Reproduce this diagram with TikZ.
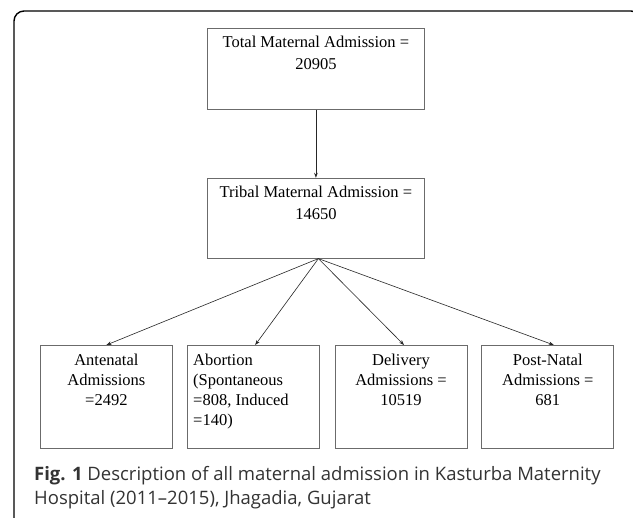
\documentclass[tikz,border=0pt]{standalone}
\usepackage{fontspec}
\setmainfont{Liberation Serif}
\newfontfamily\capfont{Open Sans}
\usetikzlibrary{positioning,arrows.meta}
\definecolor{boxgray}{gray}{0.42}
\definecolor{arrowgray}{gray}{0.15}
\definecolor{captext}{gray}{0.2}
\tikzset{
  admbox/.style={draw=boxgray,line width=0.8pt,rectangle,inner sep=0pt},
  topbox/.style={admbox,minimum width=217pt,font=\fontsize{16.5}{22}\selectfont},
  lowbox/.style={admbox,minimum width=132pt,minimum height=103pt,
    font=\fontsize{16.5}{20}\selectfont},
  flow/.style={draw=arrowgray,line width=0.6pt,-{Stealth[length=5pt,width=3.6pt]}}
}
\begin{document}
\begin{tikzpicture}[x=1pt,y=-1pt]
\clip (0,0) rectangle (633,518);
\fill[white] (0,0) rectangle (633,518);
% open frame round the figure
\draw[line width=1.4pt,rounded corners=10pt] (14,530) -- (14,11) -- (641,11) -- (641,530);
\node[topbox,minimum height=81pt,anchor=north west] (total) at (207,28)
  {\parbox[t][73.8pt][t]{205pt}{\centering\strut Total Maternal Admission =\\20905}};
\node[topbox,minimum height=80pt,below=68pt of total] (tribal)
  {\parbox[t][72.8pt][t]{205pt}{\centering\strut Tribal Maternal Admission =\\14650}};
\node[lowbox,anchor=north west] (ante) at (40,345)
  {\parbox[t][91pt][t]{120pt}{\centering\strut Antenatal\\Admissions\\=2492}};
\node[lowbox,right=14pt of ante] (abort)
  {\parbox[t][91pt][t]{120pt}{\raggedright\strut Abortion\\(Spontaneous\\=808, Induced\\=140)}};
\node[lowbox,right=15pt of abort] (deliv)
  {\parbox[t][91pt][t]{120pt}{\centering\strut Delivery\\Admissions =\\10519}};
\node[lowbox,right=14pt of deliv] (post)
  {\parbox[t][91pt][t]{120pt}{\centering\strut Post-Natal\\Admissions =\\681}};
\coordinate (fan) at ([xshift=2.5pt]tribal.south);
\draw[flow] (total) -- (tribal);
\draw[flow] (fan) -- (ante.north);
\draw[flow] (fan) -- ([xshift=2pt]abort.north);
\draw[flow] (fan) -- ([xshift=3pt]deliv.north);
\draw[flow] (fan) -- ([xshift=6pt]post.north);
% caption
\node[anchor=base west,inner sep=0pt,text=captext] (caption) at (34,481)
  {\parbox[t]{595pt}{\capfont\fontsize{18.5}{24}\selectfont
   \textbf{Fig. 1} Description of all maternal admission in Kasturba Maternity\\
   Hospital (2011–2015), Jhagadia, Gujarat}};
\end{tikzpicture}
\end{document}
